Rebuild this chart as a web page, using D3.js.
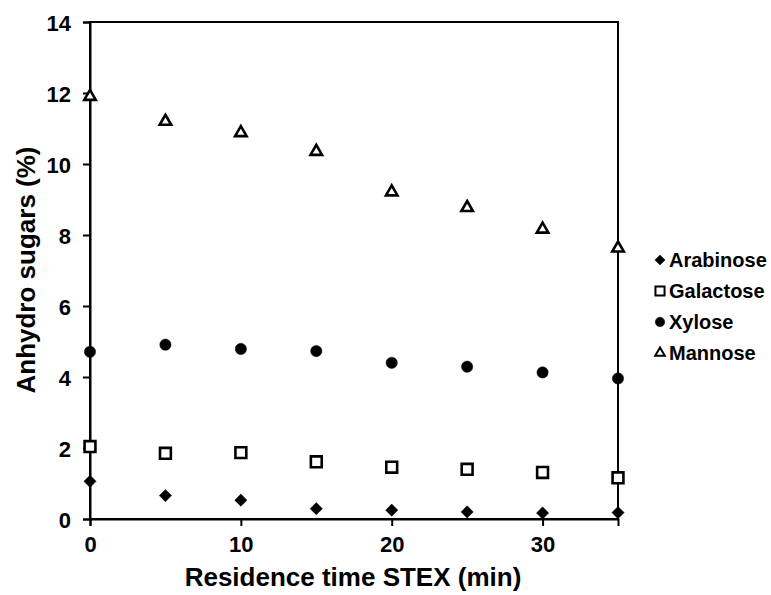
<!DOCTYPE html>
<html><head><meta charset="utf-8">
<script src="https://cdn.jsdelivr.net/npm/d3@7"></script>
<style>body{margin:0;background:#fff}svg{display:block}text{font-family:"Liberation Sans",Arial,sans-serif;font-weight:bold;fill:#000}</style>
</head><body>
<svg id="c" width="771" height="595"></svg>
<script>
const times = [0, 5, 10, 15, 20, 25, 30, 35];
const arabinose = [1.06, 0.66, 0.53, 0.29, 0.25, 0.20, 0.17, 0.18];
const galactose = [2.04, 1.85, 1.87, 1.61, 1.46, 1.40, 1.31, 1.16];
const xylose = [4.71, 4.91, 4.79, 4.73, 4.40, 4.29, 4.13, 3.96];
const mannose = [11.9, 11.2, 10.88, 10.35, 9.21, 8.77, 8.16, 7.63];
const seriesNames = ["Arabinose", "Galactose", "Xylose", "Mannose"];
const xTicks = [0, 10, 20, 30];
const yTicks = [0, 2, 4, 6, 8, 10, 12, 14];

const series = [
  {name: seriesNames[0], values: arabinose, sym: d3.symbolDiamond2, fill: "#000", size: 95},
  {name: seriesNames[1], values: galactose, sym: d3.symbolSquare2, fill: "#fff", size: 150},
  {name: seriesNames[2], values: xylose, sym: d3.symbolCircle, fill: "#000", size: 100},
  {name: seriesNames[3], values: mannose, sym: d3.symbolTriangle2, fill: "#fff", size: 95}
];

const svg = d3.select("#c");
const L = 90, R = 618, T = 22, B = 519;
const x = d3.scaleLinear().domain([0, 35]).range([L, R]);
const y = d3.scaleLinear().domain([0, 14]).range([B, T]);

// frame
svg.append("rect").attr("x", L).attr("y", T).attr("width", R - L).attr("height", B - T)
  .attr("fill", "none").attr("stroke", "#000").attr("stroke-width", 2);

const xAxis = svg.append("g").attr("transform", `translate(0,${B})`)
  .call(d3.axisBottom(x).tickValues(xTicks).tickSize(7).tickPadding(10).tickFormat(d3.format("d")));
const yAxis = svg.append("g").attr("transform", `translate(${L},0)`)
  .call(d3.axisLeft(y).tickValues(yTicks).tickSize(7).tickPadding(12).tickFormat(d3.format("d")));
[xAxis, yAxis].forEach(g => {
  g.select(".domain").attr("stroke", "#000").attr("stroke-width", 2);
  g.selectAll(".tick line").attr("stroke", "#000").attr("stroke-width", 2);
  g.selectAll(".tick text").style("font-family", '"Liberation Sans",Arial,sans-serif')
    .style("font-weight", "bold").style("font-size", "22px").attr("fill", "#000");
});
yAxis.selectAll(".tick text").attr("dy", "0.38em");

// titles
svg.append("text").attr("x", (L + R) / 2 - 1).attr("y", 586).attr("text-anchor", "middle")
  .style("font-size", "26px").text("Residence time STEX (min)");
svg.append("text").attr("transform", `translate(35,270) rotate(-90)`).attr("text-anchor", "middle")
  .style("font-size", "26px").text("Anhydro sugars (%)");

// points
series.forEach(s => {
  const sym = d3.symbol().type(s.sym).size(s.size);
  svg.append("g").selectAll("path").data(times.map((t, i) => [t, s.values[i]])).join("path")
    .attr("d", sym)
    .attr("transform", d => `translate(${x(d[0])},${y(d[1])})`)
    .attr("fill", s.fill).attr("stroke", "#000").attr("stroke-width", s.fill === "#fff" ? 2.6 : 0.5)
    .attr("stroke-linejoin", "miter");
});

// legend
const lg = svg.append("g").attr("transform", "translate(660,260)");
series.forEach((s, i) => {
  const g = lg.append("g").attr("transform", `translate(0,${i * 31})`);
  g.append("path").attr("d", d3.symbol().type(s.sym).size(s.size * 0.7))
    .attr("fill", s.fill).attr("stroke", "#000").attr("stroke-width", s.fill === "#fff" ? 2 : 0.5);
  g.append("text").attr("x", 9).attr("y", 0).attr("dy", "0.36em").style("font-size", "20px").text(s.name);
});
</script>
</body></html>
